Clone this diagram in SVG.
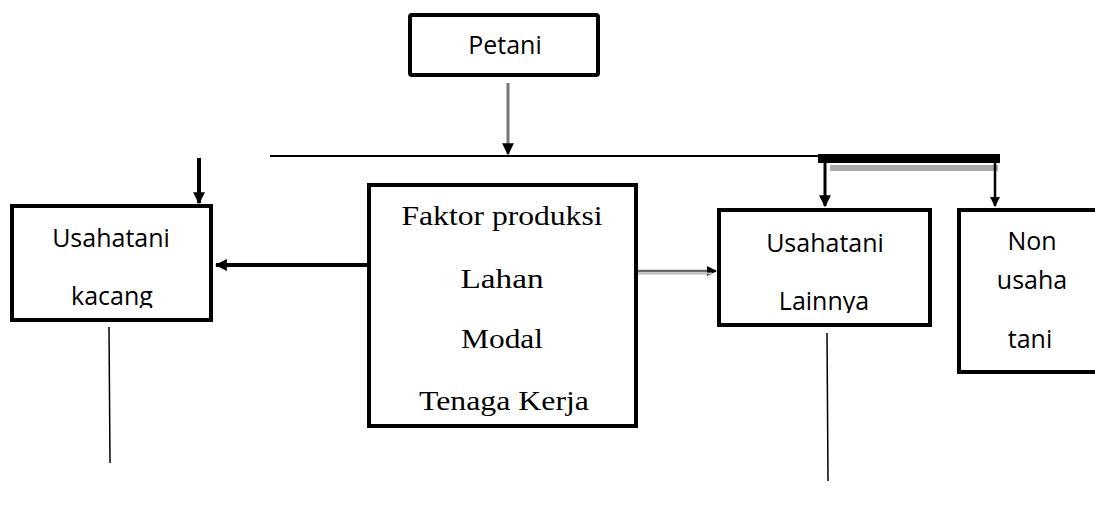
<svg xmlns="http://www.w3.org/2000/svg" width="1095" height="512" viewBox="0 0 1095 512">
<style>
.box{fill:#fff;stroke:#000;stroke-width:4}
.sans{font-family:"Open Sans","Liberation Sans",sans-serif;font-size:25px;fill:#000}
.serif{font-family:"Liberation Serif","Times New Roman",serif;font-size:28px;fill:#000}
</style>
<defs>
<marker id="ah" viewBox="0 0 10 10" refX="9" refY="5" markerWidth="3" markerHeight="3" orient="auto" markerUnits="strokeWidth">
<path d="M0,0 L10,5 L0,10 z" fill="#000"/>
</marker>
<marker id="ahs" viewBox="0 0 10 10" refX="9" refY="5" markerWidth="4" markerHeight="4" orient="auto" markerUnits="strokeWidth">
<path d="M0,0 L10,5 L0,10 z" fill="#000"/>
</marker>
<clipPath id="clipK"><rect x="14" y="208" width="195" height="100"/></clipPath>
<clipPath id="clipL"><rect x="721" y="212" width="207" height="101"/></clipPath>
</defs>
<rect width="1095" height="512" fill="#fff"/>
<g id="connectors">
<line x1="508" y1="83" x2="508" y2="154" stroke="#777" stroke-width="3" marker-end="url(#ahs)"/>
<line x1="270" y1="156" x2="820" y2="156" stroke="#000" stroke-width="2"/>
<rect x="818" y="154" width="182" height="9" fill="#000"/>
<rect x="830" y="165" width="168" height="6" fill="#aaa"/>
<line x1="825" y1="160" x2="825" y2="206" stroke="#000" stroke-width="3" marker-end="url(#ahs)"/>
<line x1="995" y1="163" x2="995" y2="206" stroke="#000" stroke-width="2.5" marker-end="url(#ahs)"/>
<line x1="199" y1="158" x2="199" y2="203" stroke="#000" stroke-width="4" marker-end="url(#ah)"/>
<line x1="367" y1="265" x2="216" y2="265" stroke="#000" stroke-width="4" marker-end="url(#ah)"/>
<line x1="638" y1="271" x2="716" y2="271" stroke="#666" stroke-width="2.5" marker-end="url(#ahs)"/>
<line x1="638" y1="273.5" x2="712" y2="273.5" stroke="#bbb" stroke-width="2"/>
<line x1="109" y1="327" x2="110" y2="463" stroke="#000" stroke-width="1.5"/>
<line x1="827" y1="333" x2="828" y2="481" stroke="#000" stroke-width="1.5"/>
</g>
<g id="petani">
<rect class="box" x="410" y="15" width="188" height="60" rx="2"/>
<text class="sans" x="505" y="54" text-anchor="middle">Petani</text>
</g>
<g id="usahatani-kacang">
<rect class="box" x="12" y="206" width="199" height="114"/>
<g clip-path="url(#clipK)">
<text class="sans" x="111" y="247" text-anchor="middle">Usahatani</text>
<text class="sans" x="112" y="305" text-anchor="middle">kacang</text>
</g>
</g>
<g id="faktor-produksi">
<rect class="box" x="369" y="185" width="267" height="241"/>
<text class="serif" x="502" y="225" text-anchor="middle" textLength="201" lengthAdjust="spacingAndGlyphs">Faktor produksi</text>
<text class="serif" x="502" y="288" text-anchor="middle" textLength="83" lengthAdjust="spacingAndGlyphs">Lahan</text>
<text class="serif" x="502" y="348" text-anchor="middle" textLength="82" lengthAdjust="spacingAndGlyphs">Modal</text>
<text class="serif" x="504" y="410" text-anchor="middle" textLength="170" lengthAdjust="spacingAndGlyphs">Tenaga Kerja</text>
</g>
<g id="usahatani-lainnya">
<rect class="box" x="719" y="210" width="211" height="115"/>
<g clip-path="url(#clipL)">
<text class="sans" x="825" y="252" text-anchor="middle">Usahatani</text>
<text class="sans" x="824" y="310" text-anchor="middle">Lainnya</text>
</g>
</g>
<g id="non-usaha-tani">
<rect class="box" x="959" y="210" width="150" height="162"/>
<text class="sans" x="1032" y="250" text-anchor="middle">Non</text>
<text class="sans" x="1032" y="289" text-anchor="middle">usaha</text>
<text class="sans" x="1030" y="348" text-anchor="middle">tani</text>
</g>
</svg>
